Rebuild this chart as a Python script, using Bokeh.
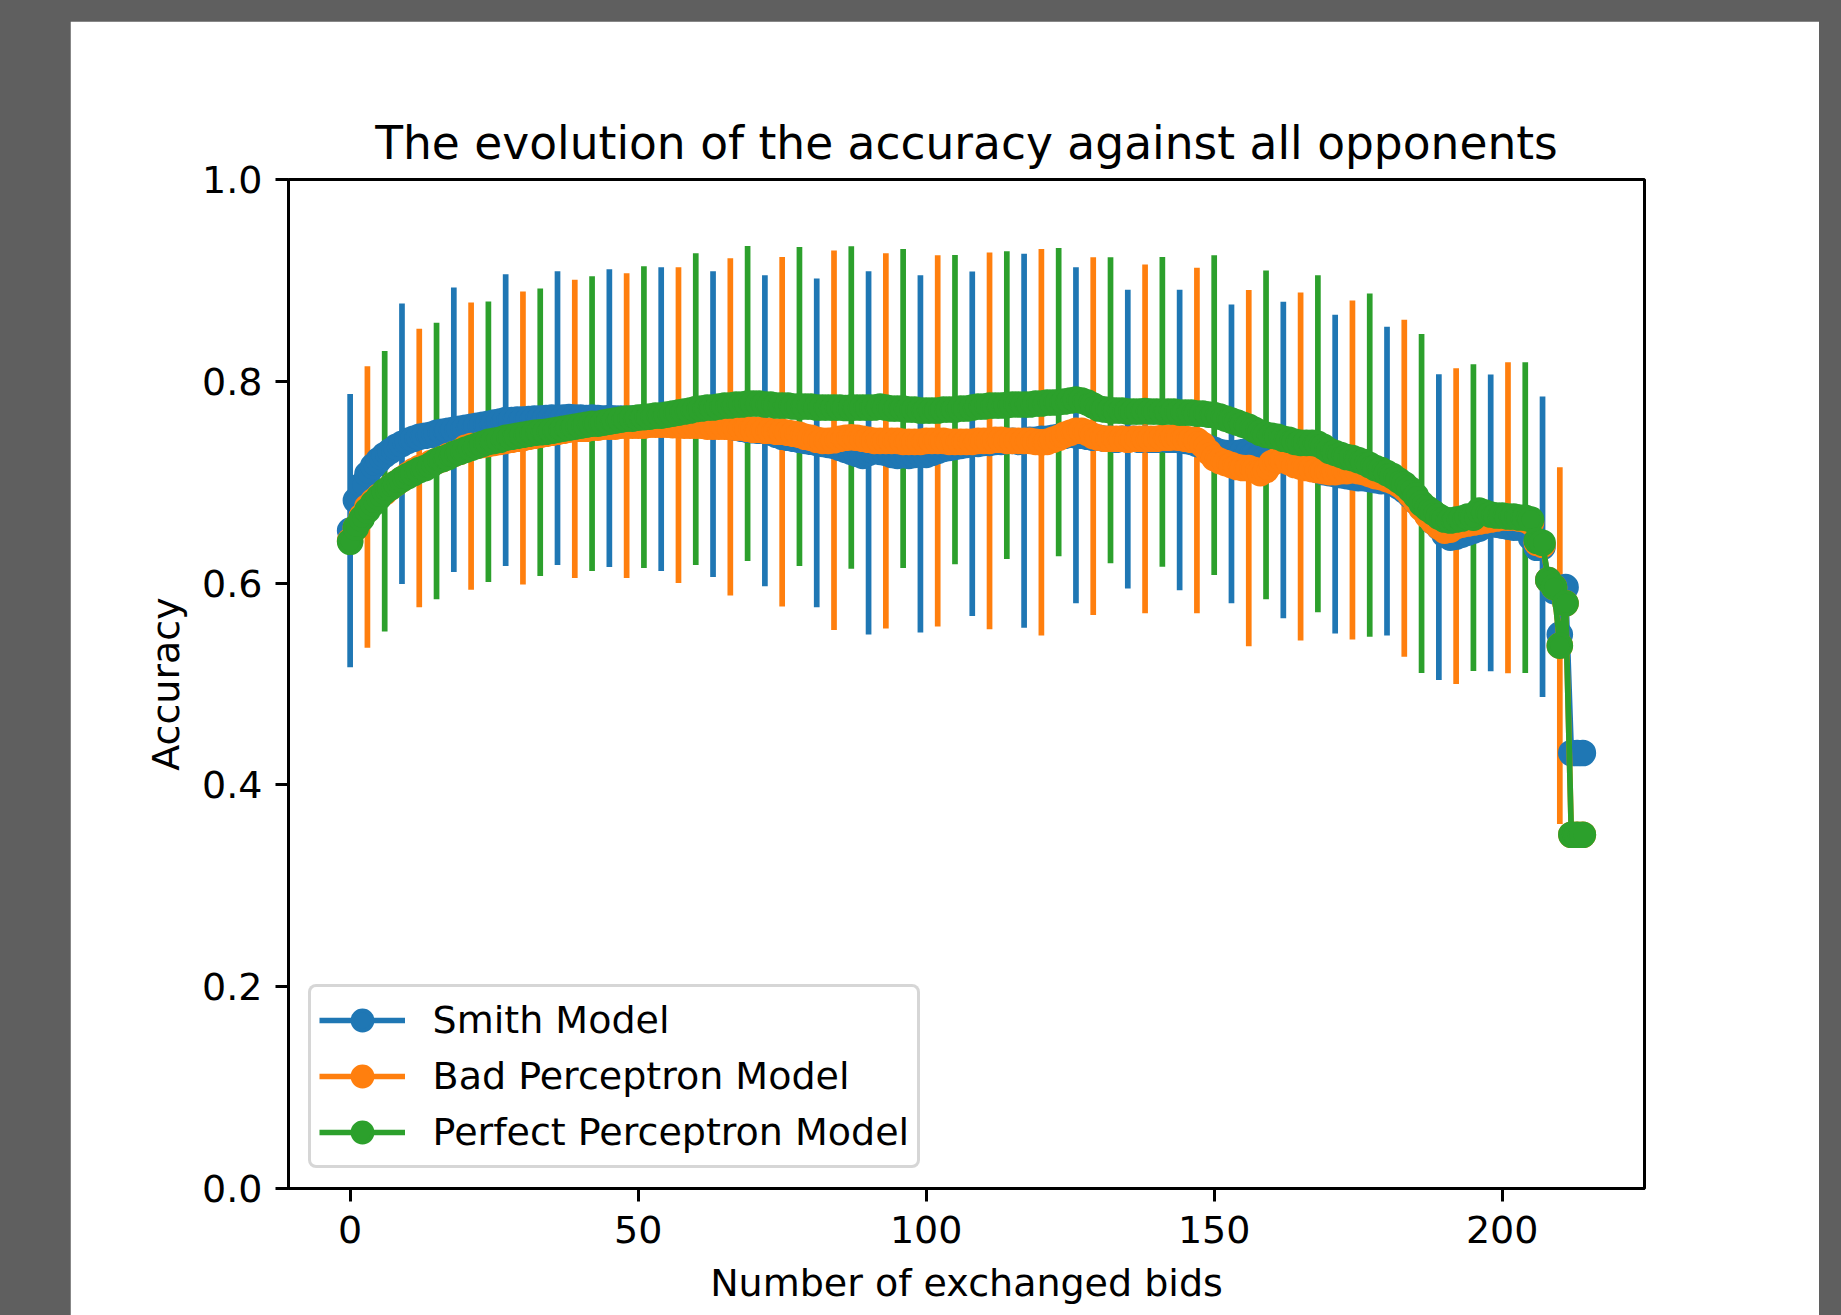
from bokeh.plotting import figure
from bokeh.models import (Range1d, FixedTicker, PrintfTickFormatter, Legend,
                          LegendItem, ColumnDataSource)
from bokeh.embed import file_html
from bokeh.resources import INLINE

# ---------------- data ----------------
bids = list(range(215))

smith_acc = [
    0.652, 0.682, 0.697, 0.708, 0.716, 0.722, 0.727, 0.731, 0.735, 0.738,
    0.741, 0.743, 0.745, 0.746, 0.747, 0.749, 0.750, 0.751, 0.752, 0.753,
    0.754, 0.755, 0.756, 0.757, 0.758, 0.759, 0.760, 0.7615, 0.7615, 0.762,
    0.762, 0.7625, 0.763, 0.763, 0.7635, 0.764, 0.7635, 0.764, 0.7645, 0.764,
    0.764, 0.7635, 0.764, 0.7635, 0.763, 0.7635, 0.763, 0.763, 0.7625, 0.763,
    0.7625, 0.762, 0.7625, 0.762, 0.7625, 0.762, 0.761, 0.7605, 0.760, 0.759,
    0.7585, 0.758, 0.7575, 0.7575, 0.757, 0.756, 0.755, 0.754, 0.753, 0.752,
    0.7515, 0.751, 0.751, 0.749, 0.747, 0.745, 0.744, 0.743, 0.742, 0.741,
    0.740, 0.739, 0.738, 0.737, 0.736, 0.734, 0.732, 0.730, 0.728, 0.726,
    0.729, 0.731, 0.730, 0.729, 0.727, 0.726, 0.727, 0.726, 0.727, 0.728,
    0.727, 0.729, 0.731, 0.733, 0.734, 0.735, 0.736, 0.737, 0.738, 0.738,
    0.739, 0.739, 0.740, 0.740, 0.741, 0.741, 0.740, 0.741, 0.742, 0.742,
    0.743, 0.743, 0.744, 0.745, 0.746, 0.747, 0.7465, 0.746, 0.745, 0.744,
    0.744, 0.743, 0.743, 0.742, 0.743, 0.7427, 0.743, 0.742, 0.743, 0.742,
    0.742, 0.743, 0.742, 0.742, 0.7418, 0.741, 0.740, 0.738, 0.736, 0.734,
    0.732, 0.730, 0.729, 0.728, 0.729, 0.730, 0.729, 0.727, 0.725, 0.724,
    0.723, 0.722, 0.722, 0.721, 0.720, 0.718, 0.716, 0.714, 0.712, 0.710,
    0.709, 0.708, 0.707, 0.706, 0.705, 0.704, 0.704, 0.703, 0.702, 0.701,
    0.701, 0.699, 0.696, 0.692, 0.687, 0.681, 0.675, 0.668, 0.661, 0.6555,
    0.648, 0.645, 0.646, 0.648, 0.650, 0.652, 0.654, 0.657, 0.6597, 0.658,
    0.657, 0.656, 0.655, 0.655, 0.654, 0.645, 0.635, 0.636, 0.603, 0.592,
    0.549, 0.596, 0.4316, 0.4316, 0.4316,
]

bad_acc = [
    0.642, 0.655, 0.666, 0.6755, 0.681, 0.686, 0.690, 0.695, 0.699, 0.703,
    0.707, 0.711, 0.714, 0.716, 0.719, 0.721, 0.723, 0.726, 0.728, 0.730,
    0.734, 0.7358, 0.736, 0.737, 0.738, 0.739, 0.740, 0.741, 0.742, 0.743,
    0.7438, 0.745, 0.746, 0.747, 0.748, 0.749, 0.750, 0.751, 0.752, 0.7528,
    0.753, 0.753, 0.754, 0.754, 0.755, 0.755, 0.755, 0.756, 0.756, 0.756,
    0.756, 0.756, 0.757, 0.757, 0.757, 0.757, 0.7565, 0.7565, 0.756, 0.756,
    0.756, 0.756, 0.755, 0.755, 0.755, 0.755, 0.7548, 0.754, 0.754, 0.753,
    0.752, 0.752, 0.751, 0.751, 0.750, 0.750, 0.749, 0.748, 0.747, 0.745,
    0.744, 0.742, 0.741, 0.741, 0.7416, 0.743, 0.744, 0.7445, 0.744, 0.743,
    0.742, 0.741, 0.741, 0.741, 0.741, 0.741, 0.740, 0.740, 0.740, 0.740,
    0.741, 0.741, 0.741, 0.741, 0.740, 0.740, 0.740, 0.740, 0.740, 0.741,
    0.741, 0.741, 0.742, 0.742, 0.741, 0.741, 0.741, 0.741, 0.741, 0.740,
    0.7395, 0.740, 0.742, 0.744, 0.747, 0.749, 0.751, 0.751, 0.749, 0.7457,
    0.744, 0.743, 0.743, 0.743, 0.743, 0.742, 0.743, 0.743, 0.7429, 0.743,
    0.743, 0.744, 0.744, 0.7445, 0.744, 0.743, 0.742, 0.7413, 0.737, 0.730,
    0.724, 0.721, 0.719, 0.717, 0.715, 0.714, 0.714, 0.712, 0.709, 0.712,
    0.719, 0.722, 0.722, 0.720, 0.717, 0.7155, 0.714, 0.713, 0.712, 0.711,
    0.710, 0.710, 0.711, 0.711, 0.712, 0.711, 0.710, 0.708, 0.706, 0.705,
    0.703, 0.701, 0.698, 0.694, 0.688, 0.681, 0.674, 0.667, 0.661, 0.656,
    0.652, 0.653, 0.6565, 0.658, 0.659, 0.660, 0.661, 0.662, 0.663, 0.664,
    0.665, 0.6648, 0.665, 0.664, 0.663, 0.660, 0.640, 0.638, 0.603, 0.596,
    0.538, 0.580, 0.3506, 0.3506, 0.3506,
]

perfect_acc = [
    0.641, 0.655, 0.664, 0.672, 0.679, 0.685, 0.691, 0.695, 0.699, 0.703,
    0.706, 0.709, 0.712, 0.714, 0.717, 0.721, 0.723, 0.725, 0.728, 0.730,
    0.732, 0.734, 0.736, 0.738, 0.740, 0.741, 0.742, 0.744, 0.745, 0.746,
    0.747, 0.748, 0.749, 0.7495, 0.750, 0.751, 0.752, 0.753, 0.754, 0.755,
    0.756, 0.757, 0.758, 0.758, 0.759, 0.760, 0.761, 0.762, 0.763, 0.763,
    0.764, 0.7645, 0.765, 0.766, 0.766, 0.767, 0.768, 0.769, 0.770, 0.771,
    0.7725, 0.773, 0.774, 0.774, 0.775, 0.776, 0.776, 0.777, 0.777, 0.778,
    0.778, 0.778, 0.777, 0.777, 0.776, 0.776, 0.776, 0.775, 0.775, 0.775,
    0.775, 0.774, 0.774, 0.774, 0.774, 0.774, 0.7735, 0.774, 0.774, 0.774,
    0.774, 0.774, 0.775, 0.774, 0.773, 0.773, 0.773, 0.772, 0.772, 0.771,
    0.771, 0.771, 0.771, 0.772, 0.772, 0.772, 0.773, 0.773, 0.774, 0.775,
    0.775, 0.776, 0.776, 0.776, 0.7765, 0.777, 0.777, 0.777, 0.777, 0.778,
    0.778, 0.779, 0.779, 0.7793, 0.780, 0.781, 0.782, 0.781, 0.779, 0.776,
    0.773, 0.772, 0.7713, 0.771, 0.771, 0.770, 0.770, 0.770, 0.7705, 0.770,
    0.770, 0.7697, 0.770, 0.770, 0.769, 0.769, 0.769, 0.768, 0.768, 0.767,
    0.7665, 0.765, 0.763, 0.761, 0.759, 0.757, 0.755, 0.752, 0.749, 0.7469,
    0.746, 0.745, 0.743, 0.742, 0.740, 0.739, 0.739, 0.739, 0.738, 0.735,
    0.731, 0.729, 0.727, 0.725, 0.724, 0.722, 0.720, 0.7169, 0.714, 0.712,
    0.709, 0.706, 0.702, 0.698, 0.693, 0.6865, 0.6788, 0.674, 0.670, 0.666,
    0.663, 0.662, 0.663, 0.664, 0.666, 0.6648, 0.672, 0.670, 0.668, 0.667,
    0.667, 0.666, 0.666, 0.665, 0.6648, 0.663, 0.642, 0.640, 0.603, 0.596,
    0.538, 0.580, 0.3506, 0.3506, 0.3506,
]

# error bars: drawn every 9th bid, starting at bid 0 / 3 / 6
err_step = 9
smith_err_start, bad_err_start, perfect_err_start = 0, 3, 6
smith_err = [0.1355, 0.139, 0.141, 0.1445, 0.1455, 0.1475, 0.1505, 0.1515,
             0.154, 0.163, 0.180, 0.177, 0.1707, 0.1853, 0.1665, 0.148,
             0.149, 0.148, 0.1568, 0.158, 0.153, 0.1515, 0.147, 0.149]
bad_err = [0.1395, 0.138, 0.1423, 0.1453, 0.1478, 0.151, 0.1565, 0.1672,
           0.1732, 0.188, 0.186, 0.184, 0.1867, 0.1915, 0.1773, 0.1729,
           0.1713, 0.1765, 0.1725, 0.168, 0.167, 0.1565, 0.1542, 0.1768]
perfect_err = [0.139, 0.137, 0.139, 0.1425, 0.146, 0.1495, 0.1545, 0.156,
               0.158, 0.1598, 0.158, 0.1532, 0.1525, 0.1527, 0.1517, 0.1534,
               0.1585, 0.163, 0.167, 0.170, 0.168, 0.152, 0.154, 0.0]

labels = ["Smith Model", "Bad Perceptron Model", "Perfect Perceptron Model"]
colors = ["#1f77b4", "#ff7f0e", "#2ca02c"]
x_ticks = [0, 50, 100, 150, 200]
y_ticks = [0.0, 0.2, 0.4, 0.6, 0.8, 1.0]

# ---------------- figure ----------------
FONT = "DejaVu Sans"
p = figure(width=1749, height=1294,
           x_range=Range1d(-10.7, 224.7), y_range=Range1d(0, 1),
           output_backend="svg", toolbar_location=None,
           min_border_left=218, min_border_right=175,
           min_border_top=158, min_border_bottom=127,
           margin=(21, 0, 0, 70))
p.background_fill_color = "white"
p.border_fill_color = "white"
p.grid.visible = False
p.outline_line_color = "black"
p.outline_line_width = 3

p.title.text = "The evolution of the accuracy against all opponents"
p.title.text_font = FONT
p.title.text_font_size = "45.5px"
p.title.text_font_style = "normal"
p.title.text_color = "black"
p.title.align = "center"
p.title.standoff = 19

for ax in (p.xaxis[0], p.yaxis[0]):
    ax.axis_line_width = 3
    ax.major_tick_line_width = 3
    ax.major_tick_out = 13
    ax.major_tick_in = 0
    ax.minor_tick_line_color = None
    ax.major_label_text_font = FONT
    ax.major_label_text_font_size = "38px"
    ax.major_label_text_color = "black"
    ax.axis_label_text_font = FONT
    ax.axis_label_text_font_size = "38px"
    ax.axis_label_text_font_style = "normal"
    ax.axis_label_text_color = "black"

p.xaxis.ticker = FixedTicker(ticks=x_ticks)
p.yaxis.ticker = FixedTicker(ticks=y_ticks)
p.yaxis.formatter = PrintfTickFormatter(format="%.1f")
p.xaxis.axis_label = "Number of exchanged bids"
p.yaxis.axis_label = "Accuracy"
p.xaxis.major_label_standoff = 14
p.xaxis.axis_label_standoff = 15
p.yaxis.major_label_standoff = 13
p.yaxis.axis_label_standoff = 11

series = [
    (smith_acc, smith_err, smith_err_start),
    (bad_acc, bad_err, bad_err_start),
    (perfect_acc, perfect_err, perfect_err_start),
]

# error bars first (they sit beneath all the data lines)
for (acc, err, start), c in zip(series, colors):
    ex = bids[start::err_step][:len(err)]
    em = [acc[i] for i in ex]
    src = ColumnDataSource(dict(x=ex, lo=[m - e for m, e in zip(em, err)],
                                hi=[m + e for m, e in zip(em, err)]))
    p.segment(x0="x", y0="lo", x1="x", y1="hi", source=src,
              line_color=c, line_width=5.7)

items = []
for (acc, err, start), c, lab in zip(series, colors, labels):
    src = ColumnDataSource(dict(x=bids, y=acc))
    ln = p.line("x", "y", source=src, line_color=c, line_width=5.7,
                line_join="round")
    sc = p.scatter("x", "y", source=src, size=22.8, fill_color=c,
                   line_color=c, line_width=3.8)
    items.append(LegendItem(label=lab, renderers=[ln, sc]))

legend = Legend(items=items, location=(19.6, 19.7))
legend.label_text_font = FONT
legend.label_text_font_size = "38px"
legend.label_text_color = "black"
legend.glyph_width = 86
legend.glyph_height = 50
legend.label_standoff = 28
legend.spacing = 6
legend.padding = 8
legend.margin = 0
legend.background_fill_color = "white"
legend.background_fill_alpha = 0.8
legend.border_line_color = "#cccccc"
legend.border_line_width = 3
legend.border_line_alpha = 0.8
if "border_radius" in Legend.properties():
    legend.border_radius = 8
p.add_layout(legend, "center")

html = file_html(p, INLINE, title="accuracy")
html = html.replace("</head>",
                    "<style>html,body{background-color:#5f5f5f;}</style></head>", 1)
open("out.html", "w").write(html)
